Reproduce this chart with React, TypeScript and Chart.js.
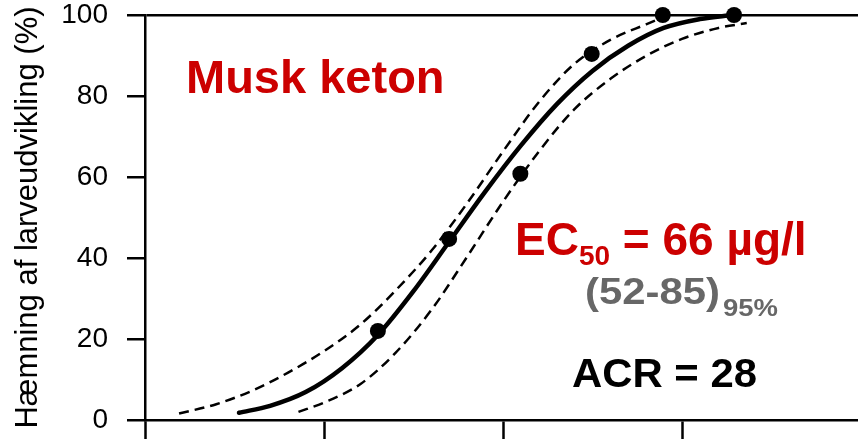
import React, { useEffect, useRef } from "react";
import { Chart, registerables } from "chart.js";

Chart.register(...registerables);

// Measured data points (concentration µg/l, inhibition %)
const pointConc = [20, 50, 125, 313, 781, 1953];
const pointEffect = [22, 44.7, 60.8, 90.4, 100, 100];

// Fitted concentration-response curve
const fitConc = [3.35, 5, 7.9, 12.6, 20, 31.6, 50, 79, 126, 200, 316, 500, 790, 1260, 1930];
const fitEffect = [1.8, 3.5, 6.9, 12.8, 21.0, 31.8, 44.0, 56.2, 67.8, 78.0, 86.2, 92.4, 96.8, 99.0, 100];

// Upper 95% confidence band (left dashed curve)
const upperConc = [1.55, 2.5, 4, 6.3, 10, 16, 25, 40, 63, 100, 160, 250, 400, 630, 800];
const upperEffect = [1.6, 3.9, 7.3, 11.7, 17.0, 23.6, 31.9, 41.9, 53.5, 66.3, 78.7, 87.9, 93.9, 97.7, 99.6];

// Lower 95% confidence band (right dashed curve)
const lowerConc = [7.2, 10, 16, 25, 40, 63, 100, 160, 250, 400, 630, 1000, 1600, 2300];
const lowerEffect = [2.0, 4.3, 8.9, 16.5, 27.3, 40.3, 53.9, 66.5, 76.7, 84.3, 89.9, 94.1, 96.8, 98.0];

const yTicks = [0, 20, 40, 60, 80, 100];
const xTicks = [1, 10, 100, 1000, 10000];

const yTitle = "Hæmning af larveudvikling (%)";
const chemical = "Musk keton";
const ec50Value = "66";
const ec50Unit = "µg/l";
const ciLow = "52";
const ciHigh = "85";
const ciLevel = "95%";
const acrValue = "28";

const FAM = '"Liberation Sans", Arial, Helvetica, sans-serif';

const toXY = (xs: number[], ys: number[]) => xs.map((x, i) => ({ x, y: ys[i] }));

function drawStretched(ctx: CanvasRenderingContext2D, text: string, x: number, y: number, size: number, width: number) {
  ctx.font = `bold ${size}px ${FAM}`;
  const w = ctx.measureText(text).width;
  const sx = width / w;
  ctx.save();
  ctx.translate(x, y);
  ctx.scale(sx, 1);
  ctx.fillText(text, 0, 0);
  ctx.restore();
}

const annotationPlugin = {
  id: "annotations",
  afterDraw(chart: any) {
    const ctx: CanvasRenderingContext2D = chart.ctx;
    ctx.save();
    ctx.textAlign = "left";
    ctx.textBaseline = "alphabetic";
    ctx.fillStyle = "#cc0000";
    ctx.font = `bold 47px ${FAM}`;
    ctx.fillText(chemical, 186, 93);

    ctx.font = `bold 46px ${FAM}`;
    ctx.fillText("EC", 515, 255);
    let x = 515 + ctx.measureText("EC").width;
    ctx.font = `bold 28px ${FAM}`;
    ctx.fillText("50", x, 265);
    x += ctx.measureText("50").width;
    ctx.font = `bold 46px ${FAM}`;
    ctx.fillText(` = ${ec50Value} ${ec50Unit}`, x, 255);

    ctx.fillStyle = "#676767";
    drawStretched(ctx, `(${ciLow}-${ciHigh})`, 585, 304, 36, 135);
    drawStretched(ctx, ciLevel, 723, 316, 24, 55);

    ctx.fillStyle = "#000000";
    drawStretched(ctx, `ACR = ${acrValue}`, 572, 387, 40, 185);
    ctx.restore();
  },
};

export default function App() {
  const ref = useRef<HTMLCanvasElement>(null);
  useEffect(() => {
    const canvas = ref.current!;
    Chart.defaults.font.family = FAM;
    const chart = new Chart(canvas, {
      type: "scatter",
      data: {
        datasets: [
          {
            data: toXY(pointConc, pointEffect),
            showLine: false,
            pointRadius: 8,
            pointBackgroundColor: "#000",
            pointBorderWidth: 0,
            backgroundColor: "#000",
            clip: false,
          } as any,
          {
            data: toXY(fitConc, fitEffect),
            showLine: true,
            borderColor: "#000",
            borderWidth: 4.5,
            pointRadius: 0,
            cubicInterpolationMode: "monotone",
            borderCapStyle: "round",
            clip: false,
          },
          {
            data: toXY(upperConc, upperEffect),
            showLine: true,
            borderColor: "#000",
            borderWidth: 2.5,
            borderDash: [10, 6],
            pointRadius: 0,
            cubicInterpolationMode: "monotone",
            clip: false,
          },
          {
            data: toXY(lowerConc, lowerEffect),
            showLine: true,
            borderColor: "#000",
            borderWidth: 2.5,
            borderDash: [10, 6],
            pointRadius: 0,
            cubicInterpolationMode: "monotone",
            clip: false,
          },
        ],
      },
      options: {
        animation: false,
        responsive: false,
        devicePixelRatio: 1,
        layout: { padding: { top: 15, right: 19, left: 0, bottom: 0 } },
        plugins: { legend: { display: false }, tooltip: { enabled: false } },
        scales: {
          x: {
            type: "logarithmic",
            min: 1,
            max: 10000,
            afterBuildTicks: (s: any) => {
              s.ticks = xTicks.map((v) => ({ value: v }));
            },
            afterFit: (s: any) => {
              s.height = 40;
              s.paddingLeft = 0;
              s.paddingRight = 0;
            },
            ticks: { display: false },
            grid: {
              drawOnChartArea: false,
              drawTicks: true,
              tickLength: 25,
              tickColor: "#000",
              tickWidth: 2.5,
            },
            border: { display: true, color: "#000", width: 2.5 },
          },
          y: {
            min: 0,
            max: 100,
            afterBuildTicks: (s: any) => {
              s.ticks = yTicks.map((v) => ({ value: v }));
            },
            afterFit: (s: any) => {
              s.width = 145;
              s.paddingTop = 0;
              s.paddingBottom = 0;
            },
            ticks: { padding: 19, color: "#000", font: { size: 28 } },
            grid: {
              drawOnChartArea: true,
              drawTicks: true,
              tickLength: 18,
              tickColor: "#000",
              tickWidth: 2.5,
              lineWidth: 2.5,
              color: (c: any) => (c.tick && c.tick.value === 100 ? "#000" : "rgba(0,0,0,0)"),
            },
            border: { display: true, color: "#000", width: 2.5 },
            title: {
              display: true,
              text: yTitle,
              color: "#000",
              font: { size: 31 },
              padding: { top: 10, bottom: 0 },
            },
          },
        },
      },
      plugins: [annotationPlugin],
    } as any);
    return () => chart.destroy();
  }, []);
  return (
    <div
      style={{
        position: "absolute",
        left: 0,
        top: 0,
        width: 858,
        height: 439,
        overflow: "hidden",
        background: "#fff",
      }}
    >
      <canvas ref={ref} width={880} height={460} style={{ display: "block" }} />
    </div>
  );
}
